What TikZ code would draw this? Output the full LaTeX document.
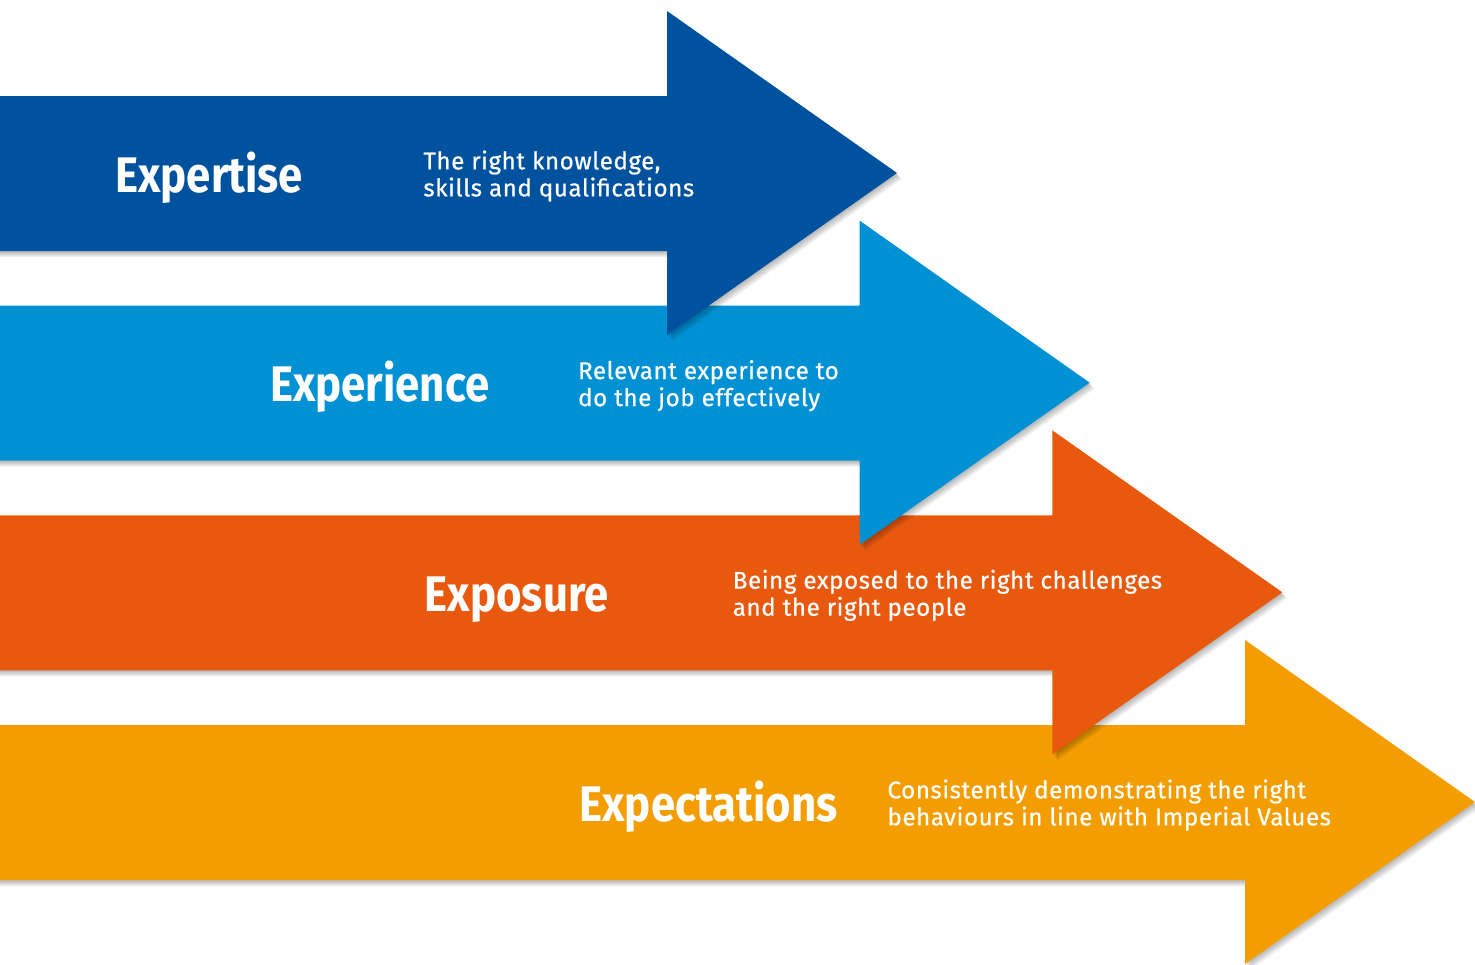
\documentclass[tikz,border=0pt]{standalone}
\usepackage{fontspec}
\setmainfont{Fira Sans}
\newfontfamily\headfont{Fira Sans}[FakeStretch=0.875]
\newfontfamily\descfont{Fira Sans}[LetterSpace=2.2, FakeBold=0.6]
\usetikzlibrary{shadows}
\definecolor{cexpertise}{RGB}{0,81,158}
\definecolor{cexperience}{RGB}{0,145,213}
\definecolor{cexposure}{RGB}{232,89,14}
\definecolor{cexpect}{RGB}{243,157,0}
\tikzset{
  shadowlayer/.style={fill=black, fill opacity=0.07, draw=none},
  headtext/.style={text=white, font=\headfont\bfseries\fontsize{25}{30}\selectfont, inner sep=0pt, anchor=base west},
  desctext/.style={text=white, font=\descfont\fontsize{12.1}{13.5}\selectfont, inner sep=0pt, anchor=west, align=left},
}
\newcommand\myarrowpath[1]{(#1,96) -- (667,96) -- (667,11) -- (897,173) -- (667,335) -- (667,251) -- (#1,251) -- cycle}
\begin{document}
\begin{tikzpicture}[x=0.5pt,y=-0.5pt]
\useasboundingbox (0,0) rectangle (1475,964);
\fill[white] (0,0) rectangle (1475,964);
% arrows, back to front
\foreach \i/\c in {3/cexpect,2/cexposure,1/cexperience,0/cexpertise}{
  \pgfmathsetmacro\lx{-40-192.67*\i}
  \begin{scope}[shift={({192.67*\i},{209.67*\i})}]
    \foreach \s in {1.5,3,4.5,6}{
      \fill[shadowlayer, shift={(\s*0.8,\s)}] \myarrowpath{\lx};
    }
    \fill[\c] \myarrowpath{\lx};
  \end{scope}
}
\node[headtext] (h1) at (115,192) {Expertise};
\node[headtext] (h2) at (269.7,401.7) {Experience};
\node[headtext] (h3) at (424.4,611.3) {Exposure};
\node[headtext] (h4) at (579.1,821) {Expectations};
\node[desctext] (d1) at (423,176) {The right knowledge,\\skills and qualifications};
\node[desctext] (d2) at (577.7,385.7) {Relevant experience to\\do the job effectively};
\node[desctext] (d3) at (732.4,595.3) {Being exposed to the right challenges\\and the right people};
\node[desctext] (d4) at (887.1,805) {Consistently demonstrating the right\\behaviours in line with Imperial Values};
\end{tikzpicture}
\end{document}
